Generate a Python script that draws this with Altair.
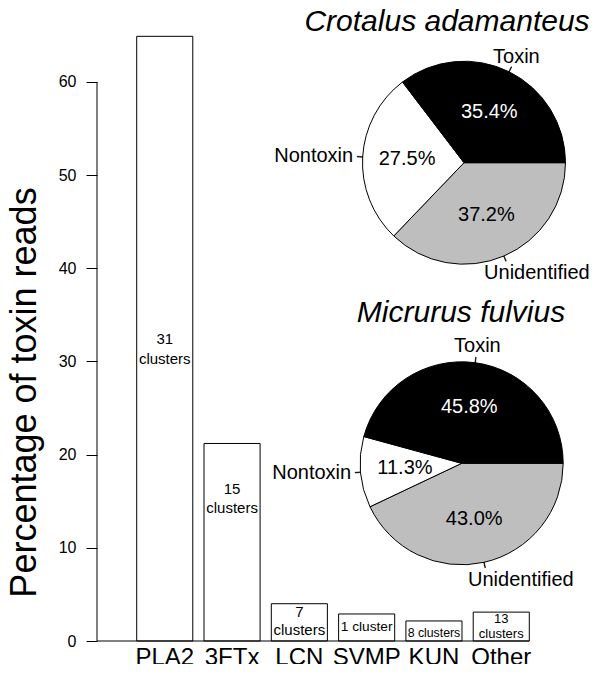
import math
import altair as alt
import pandas as pd

# ---------------- data ----------------
CATEGORIES = ["PLA2", "3FTx", "LCN", "SVMP", "KUN", "Other"]
PERCENT = [64.9, 21.2, 4.0, 2.9, 2.15, 3.1]
CLUSTER_TEXT = ["31\nclusters", "15\nclusters", "7\nclusters", "1 cluster", "8 clusters", "13\nclusters"]

SPECIES = ["Crotalus adamanteus", "Micrurus fulvius"]
PARTS = ["Unidentified", "Nontoxin", "Toxin"]
CROTALUS = [37.2, 27.5, 35.4]
MICRURUS = [43.0, 11.3, 45.8]

Y_TICKS = [0, 10, 20, 30, 40, 50, 60]
Y_TITLE = "Percentage of toxin reads"

FONT = "Liberation Sans"

bars_df = pd.DataFrame({"cat": CATEGORIES, "pct": PERCENT, "lab": CLUSTER_TEXT})
pie_df = pd.DataFrame({
    "species": [s for s in SPECIES for _ in PARTS],
    "part": PARTS * 2,
    "idx": list(range(len(PARTS))) * 2,
    "value": CROTALUS + MICRURUS,
})
axis_pts = pd.DataFrame({"yv": [min(Y_TICKS), max(Y_TICKS)], "o": [0, 1]})
base_df = pd.DataFrame({"y0": [0]})

# ---------------- scales ----------------
PLOT_W, PLOT_H = 495, 633
X_SCALE = alt.Scale(domain=CATEGORIES, range=[34.1, 437.9],
                    paddingInner=0.1667, paddingOuter=0.0833)
Y_SCALE = alt.Scale(domain=[0, 67.94], nice=False, zero=True)
THETA_SCALE = alt.Scale(domain=[0, 100.1], range=[math.pi / 2, 5 * math.pi / 2])

# ---------------- bar chart ----------------
bars = alt.Chart(bars_df).mark_bar(fill="white", stroke="black", strokeWidth=1).encode(
    x=alt.X("cat:N", sort=CATEGORIES, scale=X_SCALE,
            axis=alt.Axis(title=None, ticks=False, domain=False, labelAngle=0,
                          labelFontSize=24, labelFont=FONT, labelColor="black",
                          labelPadding=23, labelBaseline="alphabetic")),
    y=alt.Y("pct:Q", scale=Y_SCALE,
            axis=alt.Axis(values=Y_TICKS, domain=False, grid=False, tickSize=11,
                          tickColor="black", tickWidth=1, labelFontSize=16,
                          labelFont=FONT, labelColor="black", labelPadding=10,
                          title=Y_TITLE, titleFontSize=36, titleFont=FONT,
                          titleFontWeight="normal", titleColor="black",
                          titleAngle=270, titleX=-62, titleY=384,
                          titleAlign="center", titleBaseline="alphabetic")),
)

# y axis line only from 0 to 60, drawn as a two-point line through the y scale
y_line = alt.Chart(axis_pts).mark_line(color="black", strokeWidth=1).encode(
    x=alt.value(0),
    y=alt.Y("yv:Q", scale=Y_SCALE, title=Y_TITLE),
    order=alt.Order("o:Q"),
)
base_line = alt.Chart(base_df).mark_rule(color="black", strokeWidth=1).encode(
    x=alt.value(0), x2=alt.value(432.3),
    y=alt.Y("y0:Q", scale=Y_SCALE, title=Y_TITLE),
)

# label placement (data units, first line) and styling per bar
LABEL_STYLE = {
    "PLA2": dict(y=32.4, size=15, lh=20),
    "3FTx": dict(y=16.3, size=15, lh=19),
    "LCN": dict(y=3.07, size=15, lh=18),
    "SVMP": dict(y=1.48, size=13.7, lh=16),
    "KUN": dict(y=0.88, size=12.3, lh=15),
    "Other": dict(y=2.36, size=13, lh=15),
}
bar_labels = []
for c in CATEGORIES:
    st = LABEL_STYLE[c]
    bar_labels.append(
        alt.Chart(bars_df).transform_filter(alt.datum.cat == c).mark_text(
            font=FONT, fontSize=st["size"], lineHeight=st["lh"], lineBreak="\n",
            color="black", baseline="middle", align="center",
        ).encode(
            x=alt.X("cat:N", sort=CATEGORIES, scale=X_SCALE),
            y=alt.Y(datum=st["y"], scale=Y_SCALE),
            text="lab:N",
        )
    )

# ---------------- pies ----------------
R = 101.5


def pie_layers(species, cx, cy, tx, ty, unid_dx):
    base = alt.Chart(pie_df).transform_filter(alt.datum.species == species).transform_calculate(
        fillc="datum.part == 'Toxin' ? 'black' : (datum.part == 'Nontoxin' ? 'white' : '#bebebe')",
        tcol="datum.part == 'Toxin' ? 'white' : 'black'",
        lab="format(datum.value, '.1f') + '%'",
    )
    arcs = base.mark_arc(outerRadius=R, stroke="black", strokeWidth=1).encode(
        theta=alt.Theta("value:Q", stack=True, scale=THETA_SCALE),
        order=alt.Order("idx:Q"),
        fill=alt.Fill("fillc:N", scale=None),
        x=alt.value(cx), y=alt.value(cy),
    )
    mids = base.transform_window(
        cum="sum(value)", sort=[alt.SortField("idx")], frame=[None, 0]
    ).transform_calculate(
        mid="datum.cum - datum.value / 2",
        t0="datum.cum - datum.value / 2 - 0.05",
        t1="datum.cum - datum.value / 2 + 0.05",
    )
    inner = mids.mark_text(radius=57, font=FONT, fontSize=20, align="center",
                           baseline="middle").encode(
        theta=alt.Theta("mid:Q", stack=False, scale=THETA_SCALE),
        text="lab:N",
        color=alt.Color("tcol:N", scale=None),
        x=alt.value(cx), y=alt.value(cy),
    )
    ticks = mids.mark_arc(innerRadius=R, outerRadius=R + 5.5, fill="black",
                          stroke="black", strokeWidth=0.6).encode(
        theta=alt.Theta("t0:Q", stack=False, scale=THETA_SCALE),
        theta2="t1:Q",
        x=alt.value(cx), y=alt.value(cy),
    )
    outer = []
    for part, rad, align, dx in [("Toxin", 118, "center", 0),
                                 ("Nontoxin", 111, "right", 0),
                                 ("Unidentified", 120, "left", unid_dx)]:
        outer.append(
            mids.transform_filter(alt.datum.part == part).mark_text(
                radius=rad, align=align, dx=dx, baseline="middle",
                font=FONT, fontSize=20, color="black",
            ).encode(
                theta=alt.Theta("mid:Q", stack=False, scale=THETA_SCALE),
                text="part:N",
                x=alt.value(cx), y=alt.value(cy),
            )
        )
    title = alt.Chart(pd.DataFrame({"t": [species]})).mark_text(
        font=FONT, fontSize=30, fontStyle="italic", align="center",
        baseline="alphabetic", color="black",
    ).encode(text="t:N", x=alt.value(tx), y=alt.value(ty))
    return [arcs, ticks, inner] + outer + [title]


pie1 = pie_layers(SPECIES[0], 367, 154.7, 350, 22.5, -27)
pie2 = pie_layers(SPECIES[1], 364.7, 455.3, 364, 313.7, -20)

chart = alt.layer(bars, y_line, base_line, *bar_labels, *pie1, *pie2).properties(
    width=PLOT_W, height=PLOT_H,
    autosize=alt.AutoSizeParams(type="none"),
    padding={"left": 89, "top": 0, "right": 0, "bottom": 23},
    background="white",
).configure(font=FONT).configure_view(stroke=None, strokeWidth=0).configure_axis(
    domain=False, grid=False
)

chart.save("out.html", embed_options={"renderer": "svg", "actions": False})
